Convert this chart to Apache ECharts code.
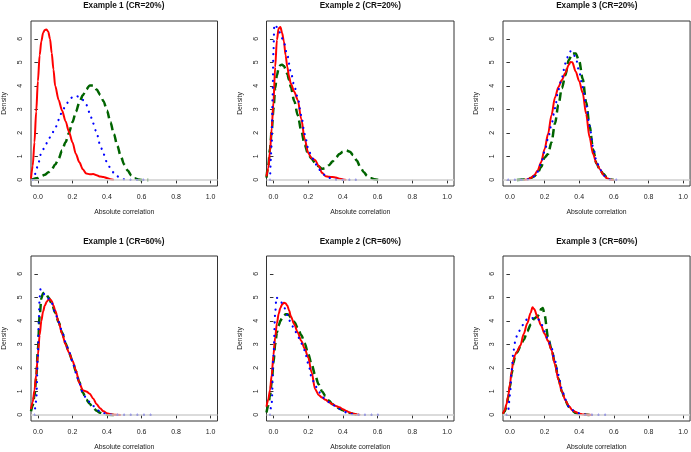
<!DOCTYPE html>
<html>
<head>
<meta charset="utf-8">
<script src="https://cdn.jsdelivr.net/npm/echarts@6/dist/echarts.min.js"></script>
<style>
  html, body { margin: 0; padding: 0; background: #fff; }
  #main { width: 691px; height: 452px; }
</style>
</head>
<body>
<div id="main"></div>
<script>
// density curves, [x, density]
// Example 1 (CR=20%)
var e1c20Red = [[-0.04,0.05],[-0.03,0.6],[-0.02,1.6],[-0.01,2.9],[0,4.2],[0.01,5.3],[0.02,5.9],[0.03,6.25],[0.04,6.38],[0.05,6.4],[0.06,6.3],[0.07,6.0],[0.08,5.4],[0.09,4.7],[0.1,4.0],[0.12,3.4],[0.14,2.95],[0.16,2.5],[0.18,2.05],[0.2,1.6],[0.22,1.1],[0.24,0.75],[0.26,0.45],[0.28,0.27],[0.3,0.24],[0.32,0.25],[0.34,0.2],[0.36,0.14],[0.38,0.12],[0.4,0.08],[0.42,0.03],[0.44,0]];
var e1c20Blue = [[-0.03,0],[-0.02,0.15],[-0.01,0.4],[0,0.65],[0.02,1.15],[0.04,1.4],[0.06,1.7],[0.08,1.95],[0.1,2.2],[0.12,2.55],[0.14,2.9],[0.16,3.15],[0.18,3.38],[0.2,3.52],[0.22,3.58],[0.24,3.52],[0.26,3.4],[0.28,3.2],[0.3,2.85],[0.32,2.4],[0.34,2.0],[0.36,1.5],[0.38,1.1],[0.4,0.75],[0.42,0.5],[0.44,0.3],[0.46,0.15],[0.48,0.07],[0.5,0.02],[0.55,0],[0.6,0],[0.65,0]];
var e1c20Green = [[-0.04,0],[0,0.08],[0.02,0.17],[0.04,0.22],[0.06,0.32],[0.08,0.45],[0.1,0.65],[0.12,0.9],[0.14,1.25],[0.16,1.6],[0.18,2.0],[0.2,2.45],[0.22,2.9],[0.24,3.3],[0.26,3.6],[0.28,3.85],[0.3,4.02],[0.32,4.02],[0.34,3.85],[0.36,3.62],[0.38,3.35],[0.4,2.95],[0.42,2.45],[0.44,1.95],[0.46,1.45],[0.48,1.0],[0.5,0.65],[0.52,0.4],[0.54,0.2],[0.56,0.07],[0.58,0.02],[0.6,0],[0.64,0]];

// Example 2 (CR=20%)
var e2c20Red = [[-0.04,0.15],[-0.03,0.5],[-0.02,1.2],[-0.01,2.2],[0,3.3],[0.01,4.8],[0.02,5.95],[0.03,6.45],[0.04,6.5],[0.05,6.25],[0.06,5.9],[0.07,5.3],[0.08,4.8],[0.09,4.4],[0.1,4.1],[0.12,3.75],[0.14,3.4],[0.16,2.6],[0.18,1.75],[0.2,1.15],[0.22,0.92],[0.24,0.85],[0.26,0.6],[0.28,0.3],[0.3,0.16],[0.32,0.13],[0.34,0.12],[0.36,0.1],[0.38,0.05],[0.4,0.02],[0.42,0]];
var e2c20Blue = [[-0.02,0],[-0.01,1.5],[-0.005,3.5],[0,5.5],[0.005,6.6],[0.01,6.6],[0.02,6.5],[0.03,6.4],[0.04,6.2],[0.06,5.85],[0.08,5.3],[0.1,4.6],[0.12,4.0],[0.14,3.5],[0.16,2.75],[0.18,1.95],[0.2,1.35],[0.22,0.98],[0.24,0.7],[0.26,0.47],[0.28,0.3],[0.3,0.18],[0.32,0.09],[0.34,0.03],[0.36,0.01],[0.4,0],[0.45,0],[0.5,0]];
var e2c20Green = [[-0.04,0.1],[-0.03,0.6],[-0.02,1.3],[-0.01,2.1],[0,3.0],[0.01,3.9],[0.02,4.45],[0.03,4.75],[0.04,4.88],[0.05,4.9],[0.06,4.85],[0.07,4.72],[0.08,4.5],[0.09,4.25],[0.1,3.95],[0.12,3.35],[0.14,2.75],[0.16,2.1],[0.18,1.5],[0.2,1.1],[0.22,0.9],[0.24,0.72],[0.26,0.58],[0.28,0.47],[0.3,0.5],[0.32,0.62],[0.34,0.78],[0.36,0.95],[0.38,1.1],[0.4,1.2],[0.42,1.25],[0.44,1.2],[0.46,1.05],[0.48,0.82],[0.5,0.55],[0.52,0.33],[0.54,0.17],[0.56,0.08],[0.58,0.03],[0.6,0.01],[0.62,0]];

// Example 3 (CR=20%)
var e3c20Red = [[0.08,0],[0.1,0.02],[0.12,0.08],[0.14,0.2],[0.16,0.4],[0.18,0.75],[0.2,1.3],[0.22,1.95],[0.24,2.75],[0.26,3.5],[0.28,3.95],[0.3,4.25],[0.32,4.55],[0.34,4.9],[0.35,5.02],[0.36,5.0],[0.38,4.6],[0.4,4.2],[0.42,3.7],[0.44,2.8],[0.46,1.8],[0.48,1.1],[0.5,0.7],[0.52,0.45],[0.54,0.2],[0.56,0.07],[0.58,0.01],[0.6,0]];
var e3c20Blue = [[-0.01,0],[0.03,0],[0.06,0],[0.1,0.02],[0.12,0.05],[0.14,0.15],[0.16,0.35],[0.18,0.7],[0.2,1.2],[0.22,1.75],[0.24,2.35],[0.26,3.05],[0.28,3.85],[0.3,4.35],[0.32,4.95],[0.34,5.35],[0.35,5.47],[0.36,5.45],[0.38,5.2],[0.4,4.6],[0.42,3.95],[0.44,3.2],[0.46,2.3],[0.48,1.4],[0.5,0.8],[0.52,0.45],[0.54,0.2],[0.56,0.06],[0.58,0.02],[0.62,0]];
var e3c20Green = [[0.04,0],[0.08,0.02],[0.12,0.08],[0.14,0.15],[0.16,0.3],[0.18,0.55],[0.2,0.95],[0.22,1.1],[0.24,1.6],[0.26,2.4],[0.28,3.2],[0.3,3.9],[0.32,4.45],[0.34,5.1],[0.36,5.38],[0.38,5.38],[0.4,5.05],[0.42,4.3],[0.44,3.3],[0.46,2.3],[0.48,1.3],[0.5,0.7],[0.52,0.42],[0.54,0.25],[0.56,0.1],[0.58,0.02],[0.6,0]];

// Example 1 (CR=60%)
var e1c60Red = [[-0.04,0.25],[-0.03,0.55],[-0.02,1.05],[-0.01,1.7],[0,2.55],[0.01,3.4],[0.02,4.0],[0.03,4.4],[0.04,4.65],[0.05,4.8],[0.06,4.9],[0.07,4.92],[0.08,4.85],[0.09,4.65],[0.1,4.45],[0.12,3.95],[0.14,3.45],[0.16,3.0],[0.18,2.65],[0.2,2.3],[0.22,1.9],[0.24,1.35],[0.26,1.05],[0.28,1.0],[0.3,0.9],[0.32,0.7],[0.34,0.45],[0.36,0.28],[0.38,0.15],[0.4,0.07],[0.42,0.03],[0.44,0.01],[0.48,0]];
var e1c60Blue = [[-0.02,0],[-0.01,0.6],[0,2.5],[0.005,4.0],[0.01,5.0],[0.015,5.35],[0.02,5.32],[0.03,5.2],[0.04,5.1],[0.06,4.95],[0.08,4.75],[0.1,4.35],[0.12,3.95],[0.14,3.55],[0.16,3.1],[0.18,2.7],[0.2,2.3],[0.22,1.8],[0.24,1.35],[0.26,0.95],[0.28,0.7],[0.3,0.55],[0.32,0.38],[0.34,0.25],[0.36,0.14],[0.38,0.07],[0.4,0.03],[0.44,0],[0.5,0],[0.54,0],[0.58,0],[0.62,0],[0.66,0]];
var e1c60Green = [[-0.04,0.15],[-0.03,0.4],[-0.02,0.8],[-0.01,1.55],[0,2.8],[0.01,4.2],[0.02,4.95],[0.03,5.18],[0.04,5.2],[0.05,5.12],[0.06,5.0],[0.08,4.75],[0.1,4.35],[0.12,3.95],[0.14,3.5],[0.16,3.05],[0.18,2.65],[0.2,2.3],[0.22,1.85],[0.24,1.4],[0.26,0.95],[0.28,0.65],[0.3,0.47],[0.32,0.3],[0.34,0.18],[0.36,0.09],[0.38,0.04],[0.4,0.01],[0.44,0]];

// Example 2 (CR=60%)
var e2c60Red = [[-0.04,0.35],[-0.03,0.65],[-0.02,1.05],[-0.01,1.7],[0,2.55],[0.01,3.3],[0.02,3.9],[0.03,4.3],[0.04,4.55],[0.05,4.7],[0.06,4.77],[0.07,4.75],[0.08,4.65],[0.09,4.45],[0.1,4.2],[0.12,3.85],[0.14,3.5],[0.16,3.15],[0.18,2.82],[0.2,2.45],[0.22,1.8],[0.24,1.1],[0.26,0.85],[0.28,0.74],[0.3,0.64],[0.32,0.54],[0.34,0.45],[0.36,0.38],[0.38,0.32],[0.4,0.24],[0.42,0.17],[0.44,0.1],[0.46,0.05],[0.48,0.02],[0.5,0]];
var e2c60Blue = [[-0.02,0],[-0.01,0.5],[0,2.5],[0.01,4.3],[0.017,5.0],[0.03,4.9],[0.04,4.85],[0.06,4.6],[0.08,4.25],[0.1,3.92],[0.12,3.65],[0.14,3.35],[0.16,3.05],[0.18,2.75],[0.2,2.2],[0.22,1.6],[0.24,1.25],[0.26,1.0],[0.28,0.78],[0.3,0.65],[0.32,0.54],[0.34,0.44],[0.36,0.35],[0.38,0.25],[0.4,0.17],[0.42,0.1],[0.44,0.05],[0.46,0.02],[0.5,0],[0.55,0],[0.59,0],[0.64,0]];
var e2c60Green = [[-0.04,0.1],[-0.03,0.4],[-0.02,0.8],[-0.01,1.4],[0,2.2],[0.01,3.0],[0.02,3.5],[0.03,3.8],[0.04,4.0],[0.05,4.12],[0.06,4.22],[0.07,4.28],[0.08,4.28],[0.09,4.25],[0.1,4.15],[0.12,3.95],[0.14,3.7],[0.16,3.4],[0.18,3.05],[0.2,2.6],[0.22,2.15],[0.24,1.7],[0.26,1.3],[0.28,1.0],[0.3,0.8],[0.32,0.6],[0.34,0.45],[0.36,0.35],[0.38,0.27],[0.4,0.2],[0.42,0.13],[0.44,0.08],[0.46,0.04],[0.48,0.02],[0.5,0]];

// Example 3 (CR=60%)
var e3c60Red = [[-0.04,0.05],[-0.03,0.2],[-0.02,0.45],[-0.01,0.8],[0,1.3],[0.01,1.85],[0.02,2.35],[0.03,2.55],[0.04,2.68],[0.06,2.95],[0.08,3.45],[0.1,3.9],[0.12,4.35],[0.13,4.58],[0.14,4.5],[0.16,4.15],[0.18,3.8],[0.2,3.45],[0.22,3.15],[0.24,2.75],[0.26,2.15],[0.28,1.5],[0.3,1.0],[0.32,0.62],[0.34,0.38],[0.36,0.2],[0.38,0.12],[0.4,0.05],[0.42,0.02],[0.44,0.01],[0.48,0]];
var e3c60Blue = [[-0.02,0],[-0.01,0.2],[0,0.85],[0.01,1.9],[0.02,2.7],[0.03,3.1],[0.04,3.35],[0.06,3.62],[0.08,3.88],[0.1,4.08],[0.12,4.12],[0.14,4.12],[0.16,4.1],[0.18,3.9],[0.2,3.55],[0.22,3.2],[0.24,2.85],[0.26,2.3],[0.28,1.7],[0.3,1.1],[0.32,0.65],[0.34,0.35],[0.36,0.2],[0.38,0.12],[0.4,0.07],[0.42,0.03],[0.44,0.01],[0.48,0],[0.51,0],[0.555,0]];
var e3c60Green = [[-0.04,0.05],[-0.03,0.15],[-0.02,0.35],[-0.01,0.75],[0,1.2],[0.01,1.75],[0.02,2.2],[0.03,2.5],[0.04,2.65],[0.06,2.9],[0.08,3.2],[0.1,3.55],[0.12,3.85],[0.14,4.1],[0.16,4.2],[0.17,4.3],[0.18,4.5],[0.19,4.55],[0.2,4.25],[0.22,3.3],[0.24,2.8],[0.26,2.2],[0.28,1.55],[0.3,1.0],[0.32,0.6],[0.34,0.35],[0.36,0.18],[0.38,0.08],[0.4,0.04],[0.42,0.02],[0.46,0]];

var titles = ['Example 1 (CR=20%)', 'Example 2 (CR=20%)', 'Example 3 (CR=20%)',
              'Example 1 (CR=60%)', 'Example 2 (CR=60%)', 'Example 3 (CR=60%)'];
var xTicks = [0, 0.2, 0.4, 0.6, 0.8, 1.0];
var yTicks = [0, 1, 2, 3, 4, 5, 6];

var redSets = [e1c20Red, e2c20Red, e3c20Red, e1c60Red, e2c60Red, e3c60Red];
var blueSets = [e1c20Blue, e2c20Blue, e3c20Blue, e1c60Blue, e2c60Blue, e3c60Blue];
var greenSets = [e1c20Green, e2c20Green, e3c20Green, e1c60Green, e2c60Green, e3c60Green];

var lefts = [30, 266.5, 503];
var tops = [21, 256];
var boxW = 187.5, boxH = 165;
var font = '"Liberation Sans", Arial, Helvetica, sans-serif';
var ink = '#222';

var grid = [], xAxis = [], yAxis = [], title = [], series = [];

for (var i = 0; i < 6; i++) {
    var col = i % 3, row = Math.floor(i / 3);
    grid.push({
        left: lefts[col], top: tops[row], width: boxW, height: boxH,
        show: true, borderColor: '#333', borderWidth: 1, backgroundColor: 'transparent'
    });
    title.push({
        text: titles[i],
        left: lefts[col] + boxW / 2, top: row === 0 ? 1.5 : 237.5,
        textAlign: 'center', padding: 0,
        textStyle: { fontFamily: font, fontSize: 8.2, fontWeight: 'bold', color: '#111' }
    });
    xAxis.push({
        type: 'value', gridIndex: i, min: -0.04, max: 1.04,
        axisLine: { show: false }, splitLine: { show: false },
        axisTick: { show: true, length: 3.5, customValues: xTicks, lineStyle: { color: '#333' } },
        axisLabel: {
            customValues: xTicks, margin: 8, fontSize: 7, color: ink, fontFamily: font,
            formatter: function (v) { return v.toFixed(1); }
        },
        name: 'Absolute correlation', nameLocation: 'middle', nameGap: 23,
        nameTextStyle: { fontSize: 6.8, color: ink, fontFamily: font }
    });
    yAxis.push({
        type: 'value', gridIndex: i, min: -0.26, max: 6.76,
        axisLine: { show: false }, splitLine: { show: false },
        axisTick: { show: true, length: 3.5, customValues: yTicks, lineStyle: { color: '#333' } },
        axisLabel: { customValues: yTicks, rotate: 90, margin: 7, fontSize: 7, color: ink, fontFamily: font },
        name: 'Density', nameLocation: 'middle', nameGap: 23,
        nameTextStyle: { fontSize: 6.8, color: ink, fontFamily: font }
    });

    // gray zero line
    series.push({
        type: 'line', xAxisIndex: i, yAxisIndex: i, data: [], silent: true,
        markLine: {
            silent: true, symbol: 'none', label: { show: false },
            lineStyle: { color: '#cfcfcf', width: 1.5, type: 'solid' },
            data: [{ yAxis: 0 }]
        }
    });
    series.push({
        type: 'line', xAxisIndex: i, yAxisIndex: i, data: greenSets[i],
        showSymbol: false, smooth: 0.3, smoothMonotone: 'x', silent: true,
        lineStyle: { color: '#006400', width: 2.5, type: [8, 4.5] }
    });
    series.push({
        type: 'line', xAxisIndex: i, yAxisIndex: i, data: redSets[i],
        showSymbol: false, smooth: 0.3, smoothMonotone: 'x', silent: true,
        lineStyle: { color: '#ff0000', width: 2 }
    });
    series.push({
        type: 'line', xAxisIndex: i, yAxisIndex: i, data: blueSets[i],
        showSymbol: false, smooth: 0.3, smoothMonotone: 'x', silent: true,
        lineStyle: { color: '#0000ff', width: 2.2, type: [0.1, 6.5], cap: 'round' }
    });
}

var chart = echarts.init(document.getElementById('main'));
chart.setOption({
    animation: false,
    backgroundColor: '#fff',
    title: title,
    grid: grid,
    xAxis: xAxis,
    yAxis: yAxis,
    series: series
});
</script>
</body>
</html>
